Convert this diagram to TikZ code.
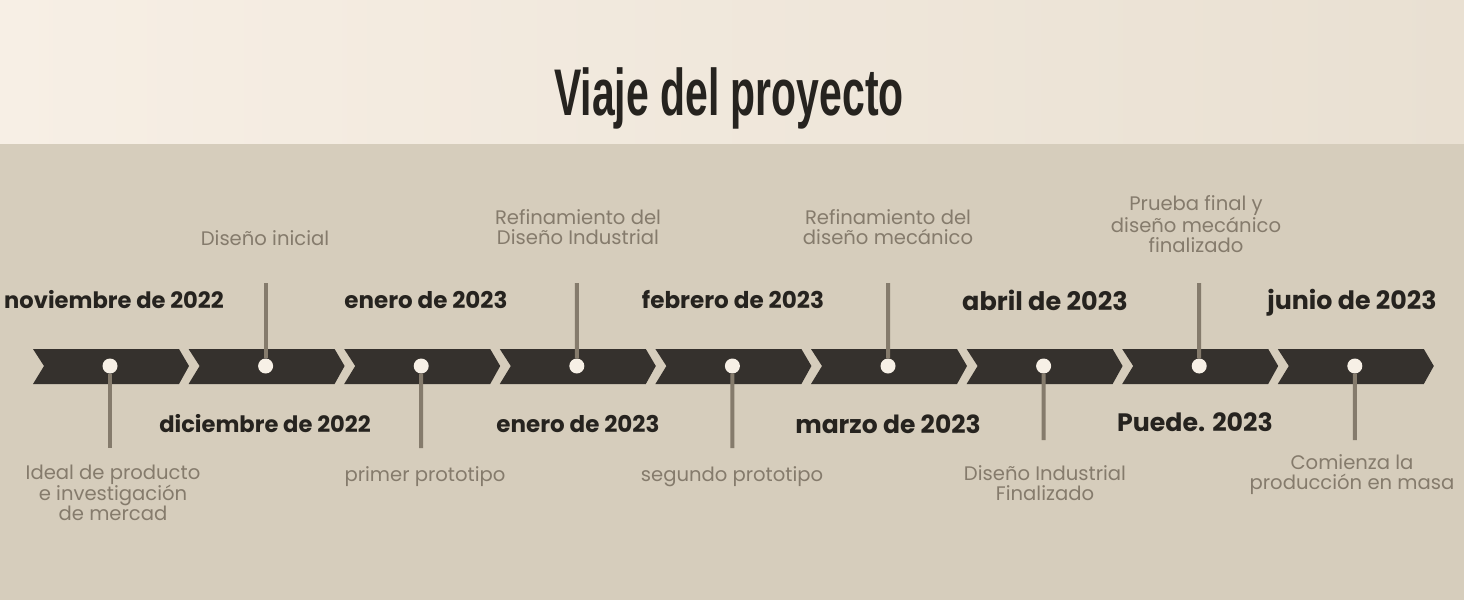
\documentclass[tikz,border=0pt]{standalone}
\usepackage{fontspec}
\usepackage{graphicx}
\setmainfont{Poppins}
\newfontfamily\titlefont{Liberation Sans}
\definecolor{bandl}{HTML}{F7EFE5}
\definecolor{bandr}{HTML}{E9E0D2}
\definecolor{bgtan}{HTML}{D6CDBC}
\definecolor{chevcol}{HTML}{35312D}
\definecolor{dotcol}{HTML}{F7F0E6}
\definecolor{stemcol}{HTML}{857B6C}
\definecolor{datecol}{HTML}{26231F}
\definecolor{desccol}{HTML}{857B6C}
\newcommand\datesize[1]{\fontsize{#1}{#1}\selectfont}
\begin{document}
\begin{tikzpicture}[x=1pt,y=-1pt,
    chev/.style={fill=chevcol},
    dot/.style={circle,fill=dotcol,inner sep=0pt,minimum size=15pt},
    stem/.style={draw=stemcol,line width=4pt},
    date/.style={font=\bfseries,text=datecol,anchor=base,inner sep=0pt},
    desc/.style={font=\fontsize{19.6}{20}\selectfont,text=desccol,align=center,inner sep=0pt}]
  % background
  \fill[bgtan] (0,0) rectangle (1464,600);
  \shade[left color=bandl,right color=bandr] (0,0) rectangle (1464,143);
  \node[anchor=base,inner sep=0pt,text=datecol] (title) at (729,115)
    {\scalebox{0.62}[1]{\titlefont\fontsize{66}{70}\selectfont\bfseries Viaje del proyecto}};
  % chevrons and dots
  \foreach \i in {0,...,8} {
    \pgfmathsetmacro\xa{33+155.6*\i}
    \fill[chev] (\xa,349) -- ++(146,0) -- ++(10,17) -- ++(-10,18) -- ++(-146,0) -- ++(11,-18) -- cycle;
    \node[dot] (d\i) at (\xa+77,366) {};
  }
  % stem ends
  \coordinate (s0) at (110,448);
  \coordinate (s1) at (265.6,283);
  \coordinate (s2) at (421.2,448);
  \coordinate (s3) at (576.8,283);
  \coordinate (s4) at (732.4,448);
  \coordinate (s5) at (888,283);
  \coordinate (s6) at (1043.6,440);
  \coordinate (s7) at (1199.2,283);
  \coordinate (s8) at (1354.8,440);
  \foreach \i in {0,2,4,6,8} \draw[stem] (d\i.south) -- (s\i);
  \foreach \i in {1,3,5,7} \draw[stem] (d\i.north) -- (s\i);
  % dates
  \node[date] (t0) at (114,308) {\datesize{22.6}noviembre de 2022};
  \node[date] (t1) at (265,432) {\datesize{22.6}diciembre de 2022};
  \node[date] (t2) at (426,308) {\datesize{23}enero de 2023};
  \node[date] (t3) at (578,432) {\datesize{23}enero de 2023};
  \node[date] (t4) at (733,308) {\datesize{23.1}febrero de 2023};
  \node[date] (t5) at (888,433) {\datesize{25}marzo de 2023};
  \node[date] (t6) at (1045,310) {\datesize{25.5}abril de 2023};
  \node[date] (t7) at (1195,431) {\datesize{25.2}Puede. 2023};
  \node[date] (t8) at (1352,309) {\datesize{25.3}junio de 2023};
  % descriptions
  \node[desc] (e0) at (113,493) {Ideal de producto\\e investigación\\de mercad};
  \node[desc] (e1) at (265,238) {Diseño inicial};
  \node[desc] (e2) at (425,477) {primer prototipo};
  \node[desc] (e3) at (578,227) {Refinamiento del\\Diseño Industrial};
  \node[desc] (e4) at (732,477) {segundo prototipo};
  \node[desc] (e5) at (888,227) {Refinamiento del\\diseño mecánico};
  \node[desc] (e6) at (1045,483) {Diseño Industrial\\Finalizado};
  \node[desc] (e7) at (1196,224) {Prueba final y\\diseño mecánico\\finalizado};
  \node[desc] (e8) at (1352,475) {Comienza la\\producción en masa};
\end{tikzpicture}
\end{document}
